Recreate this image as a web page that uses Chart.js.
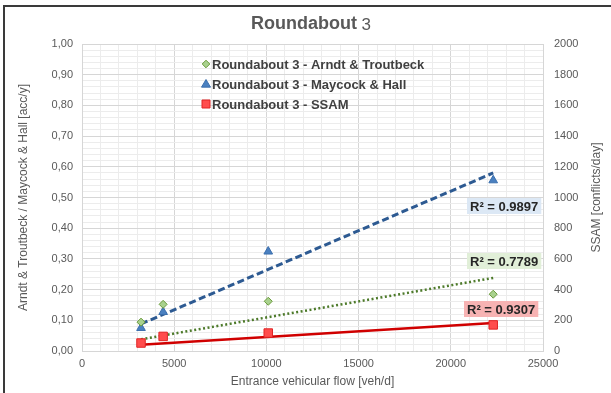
<!DOCTYPE html>
<html>
<head>
<meta charset="utf-8">
<script src="https://cdn.jsdelivr.net/npm/chart.js@4.4.1/dist/chart.umd.min.js"></script>
<style>
  html, body { margin: 0; padding: 0; background: #fff; }
  #wrap { position: relative; width: 611px; height: 393px; }
</style>
</head>
<body>
<div id="wrap"><canvas id="chart" width="611" height="393"></canvas></div>
<script>
// values
const flow = [3200, 4400, 10100, 22300];
const arndt = [0.094, 0.152, 0.162, 0.185];
const maycock = [0.075, 0.127, 0.324, 0.556];
const ssam = [52, 95, 117, 170];

// trendline end points
const trendX = [3200, 22300];
const arndtTrend = [0.038, 0.238];
const maycockTrend = [0.088, 0.58];
const ssamTrend = [40, 182];

const seriesNames = [
  "Roundabout 3 - Arndt & Troutbeck",
  "Roundabout 3 - Maycock & Hall",
  "Roundabout 3 - SSAM"
];
const r2Labels = ["R² = 0.9897", "R² = 0.7789", "R² = 0.9307"];

const xTicks = [0, 5000, 10000, 15000, 20000, 25000];

const toPoints = (xs, ys) => xs.map((x, i) => ({ x: x, y: ys[i] }));

const GRAY = "#595959";
const FONT = "'Liberation Sans', Arial, sans-serif";

// frame, title, legend, right axis title and R² boxes
const decor = {
  id: "decor",
  beforeDraw(chart) {
    const ctx = chart.ctx;
    ctx.save();
    ctx.fillStyle = "#fff";
    ctx.fillRect(0, 0, chart.width, chart.height);
    ctx.strokeStyle = "#3a3a3a";
    ctx.lineWidth = 2;
    ctx.beginPath();
    ctx.moveTo(4, chart.height);
    ctx.lineTo(4, 6);
    ctx.lineTo(chart.width, 6);
    ctx.stroke();
    ctx.restore();
  },
  afterDraw(chart) {
    const ctx = chart.ctx;
    ctx.save();
    // title
    ctx.fillStyle = GRAY;
    ctx.textBaseline = "middle";
    const t1 = "Roundabout";
    ctx.font = "bold 18px " + FONT;
    const w1 = ctx.measureText(t1).width;
    ctx.font = "17px " + FONT;
    const w2 = ctx.measureText(" 3").width;
    const tx = 311 - (w1 + w2) / 2;
    ctx.font = "bold 18px " + FONT;
    ctx.textAlign = "left";
    ctx.fillText(t1, tx, 24);
    ctx.font = "17px " + FONT;
    ctx.fillText(" 3", tx + w1, 25);

    // right axis title, reading bottom to top
    ctx.save();
    ctx.translate(597, chart.chartArea.top + (chart.chartArea.bottom - chart.chartArea.top) / 2);
    ctx.rotate(-Math.PI / 2);
    ctx.textAlign = "center";
    ctx.font = "12px " + FONT;
    ctx.fillStyle = GRAY;
    ctx.fillText("SSAM [conflicts/day]", 0, 0);
    ctx.restore();

    // legend
    const ds = chart.data.datasets;
    const rows = [64, 84, 104];
    const sizes = [3.8, 4.5, 4];
    for (let i = 0; i < 3; i++) {
      const d = ds[i];
      const cy = rows[i];
      const r = sizes[i];
      ctx.fillStyle = d.backgroundColor;
      ctx.strokeStyle = d.borderColor;
      ctx.lineWidth = 1;
      ctx.beginPath();
      if (d.pointStyle === "rectRot") {
        ctx.moveTo(206, cy - r); ctx.lineTo(206 + r, cy);
        ctx.lineTo(206, cy + r); ctx.lineTo(206 - r, cy); ctx.closePath();
      } else if (d.pointStyle === "triangle") {
        ctx.moveTo(206, cy - r); ctx.lineTo(206 + r, cy + r * 0.7);
        ctx.lineTo(206 - r, cy + r * 0.7); ctx.closePath();
      } else {
        ctx.rect(206 - r, cy - r, r * 2, r * 2);
      }
      ctx.fill(); ctx.stroke();
      ctx.fillStyle = "#404040";
      ctx.font = "bold 13px " + FONT;
      ctx.textAlign = "left";
      ctx.fillText(seriesNames[i], 212, cy + 1);
    }

    // R² labels
    const boxes = [
      { x: 467, y: 206, bg: "#dce8f5" },
      { x: 467, y: 261, bg: "#e1efd8" },
      { x: 464, y: 309, bg: "#f7b3b3" }
    ];
    ctx.font = "bold 13px " + FONT;
    r2Labels.forEach((txt, i) => {
      const b = boxes[i];
      const w = ctx.measureText(txt).width + 6;
      ctx.fillStyle = b.bg;
      ctx.fillRect(b.x, b.y - 8, w, 16);
      ctx.fillStyle = "#262626";
      ctx.textAlign = "left";
      ctx.fillText(txt, b.x + 3, b.y + 1);
    });
    ctx.restore();
  }
};

new Chart(document.getElementById("chart"), {
  type: "scatter",
  data: {
    datasets: [
      {
        label: seriesNames[0],
        data: toPoints(flow, arndt),
        pointStyle: "rectRot",
        pointRadius: 4,
        backgroundColor: "#a9d18e",
        borderColor: "#6b9b3c",
        borderWidth: 1,
        yAxisID: "y",
        order: 0
      },
      {
        label: seriesNames[1],
        data: toPoints(flow, maycock),
        pointStyle: "triangle",
        pointRadius: 5,
        backgroundColor: "#4a80c0",
        borderColor: "#3b6fae",
        borderWidth: 1,
        yAxisID: "y",
        order: 1
      },
      {
        label: seriesNames[2],
        data: toPoints(flow, ssam),
        pointStyle: "rect",
        pointRadius: 6,
        backgroundColor: "#ff4d4d",
        borderColor: "#e02424",
        borderWidth: 1,
        yAxisID: "y2",
        order: 2
      },
      {
        type: "line",
        label: "trend arndt",
        data: toPoints(trendX, arndtTrend),
        borderColor: "#4d7a2a",
        borderWidth: 2.5,
        borderDash: [2, 2.5],
        pointRadius: 0,
        fill: false,
        yAxisID: "y",
        order: 4
      },
      {
        type: "line",
        label: "trend maycock",
        data: toPoints(trendX, maycockTrend),
        borderColor: "#2d5a92",
        borderWidth: 3,
        borderDash: [7, 3.5],
        pointRadius: 0,
        fill: false,
        yAxisID: "y",
        order: 3
      },
      {
        type: "line",
        label: "trend ssam",
        data: toPoints(trendX, ssamTrend),
        borderColor: "#d00000",
        borderWidth: 2.5,
        pointRadius: 0,
        fill: false,
        yAxisID: "y2",
        order: 5
      }
    ]
  },
  options: {
    responsive: false,
    animation: false,
    layout: { padding: { top: 44, left: 0, right: 0, bottom: 0 } },
    plugins: {
      legend: { display: false },
      title: { display: false },
      tooltip: { enabled: false }
    },
    scales: {
      x: {
        type: "linear",
        min: 0,
        max: 25000,
        afterFit: (s) => { s.height = 42; },
        afterBuildTicks: (s) => {
          const t = [];
          for (let v = 0; v <= 25000; v += 1000) t.push({ value: v });
          s.ticks = t;
        },
        ticks: {
          autoSkip: false,
          maxRotation: 0,
          padding: 6,
          color: GRAY,
          font: { size: 11, family: FONT },
          callback: (v) => (xTicks.includes(v) ? String(v) : "")
        },
        grid: {
          drawTicks: false,
          tickLength: 0,
          color: (c) => (c.tick && c.tick.value % 5000 === 0 ? "#d6d6d6" : "#ececec")
        },
        border: { display: true, color: "#d6d6d6" },
        title: {
          display: true,
          text: "Entrance vehicular flow [veh/d]",
          color: GRAY,
          font: { size: 12, family: FONT },
          padding: { top: 0, bottom: 4 }
        }
      },
      y: {
        position: "left",
        min: 0,
        max: 1,
        afterFit: (s) => { s.width = 82; },
        afterBuildTicks: (s) => {
          const t = [];
          for (let i = 0; i <= 50; i++) t.push({ value: i / 50 });
          s.ticks = t;
        },
        ticks: {
          autoSkip: false,
          padding: 9,
          color: GRAY,
          font: { size: 11, family: FONT },
          callback: (v) => {
            const k = Math.round(v * 100);
            return k % 10 === 0 ? (k / 100).toFixed(2).replace(".", ",") : "";
          }
        },
        grid: {
          drawTicks: false,
          tickLength: 0,
          color: (c) => (c.tick && Math.round(c.tick.value * 100) % 10 === 0 ? "#d6d6d6" : "#ececec")
        },
        border: { display: true, color: "#d6d6d6" },
        title: {
          display: true,
          text: "Arndt & Troutbeck / Maycock & Hall [acc/y]",
          color: GRAY,
          font: { size: 12, family: FONT },
          padding: { top: 16, bottom: 0 }
        }
      },
      y2: {
        position: "right",
        min: 0,
        max: 2000,
        afterFit: (s) => { s.width = 68; },
        ticks: {
          stepSize: 200,
          padding: 11,
          color: GRAY,
          font: { size: 11, family: FONT },
          callback: (v) => String(v)
        },
        grid: { display: false, drawTicks: false },
        border: { display: false },
        title: { display: false }
      }
    }
  },
  plugins: [decor]
});
</script>
</body>
</html>
